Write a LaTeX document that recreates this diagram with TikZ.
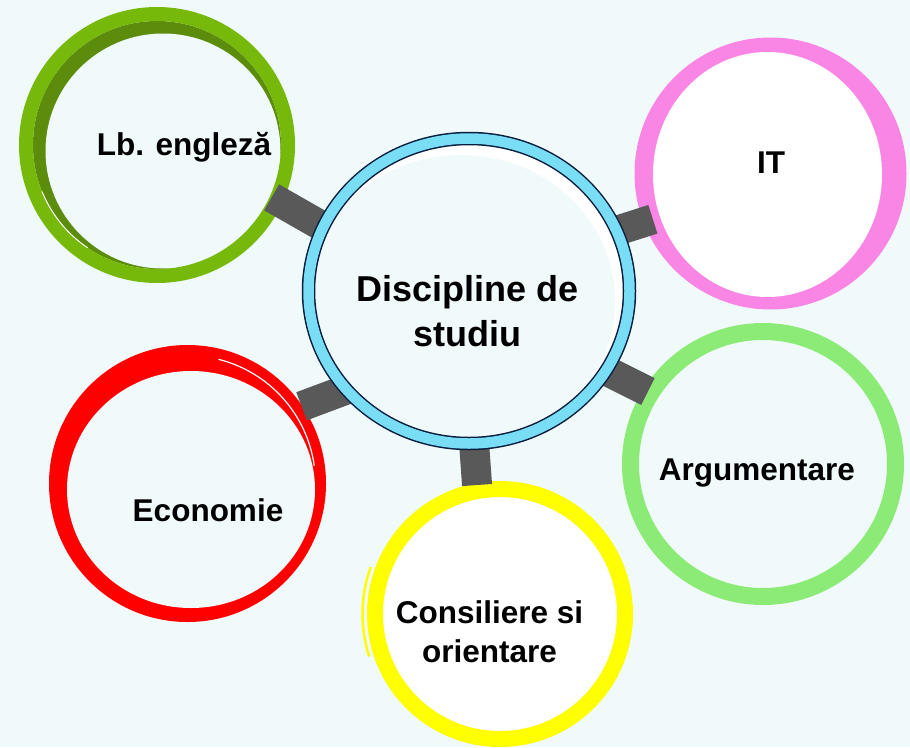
\documentclass[tikz,border=0pt]{standalone}
\usepackage{fontspec}
\setmainfont{Liberation Sans}
\usetikzlibrary{calc,shapes.geometric,backgrounds}

\definecolor{paper}{RGB}{241,250,251}
\definecolor{hubblue}{RGB}{120,221,245}
\definecolor{hubline}{RGB}{10,31,64}
\definecolor{linkgray}{RGB}{89,89,89}
\definecolor{enggreen}{RGB}{118,185,10}
\definecolor{engdark}{RGB}{92,140,12}
\definecolor{itpink}{RGB}{249,134,228}
\definecolor{arggreen}{RGB}{139,235,118}
\definecolor{consyellow}{RGB}{255,255,0}
\definecolor{ecored}{RGB}{255,0,0}

\begin{document}
\begin{tikzpicture}[x=1pt, y=-1pt,
  ring/.style={circle, inner sep=0pt},
  lbl/.style={font=\fontsize{31.5}{39}\selectfont\bfseries, align=center, inner sep=0pt},
  link/.style={draw=linkgray, line width=30pt},
]
\useasboundingbox (0,0) rectangle (910,747);

% hub
\fill[white] (469,291) ellipse [x radius=154pt, y radius=146pt];
\begin{scope}
  \clip (469,291) ellipse [x radius=154pt, y radius=146pt];
  \fill[paper] (461,301) ellipse [x radius=154pt, y radius=146pt];
\end{scope}
\node[ellipse, draw=hubline, line width=1.5pt, double=hubblue, double distance=10.5pt,
  minimum width=321pt, minimum height=305pt, inner sep=0pt, outer sep=6.75pt] (hub) at (469,291) {};
\node[lbl, font=\fontsize{36}{45}\selectfont\bfseries] (hubtxt) at (467.5,311.4) {Discipline de\\ studiu};

\begin{pgfonlayer}{background}
\fill[paper] (0,0) rectangle (910,747);
% Lb. engleza
\fill[engdark] (157,145) circle [radius=124pt];
\fill[paper] (163,151) circle [radius=117.5pt];
\node[ring, draw=enggreen, line width=14pt, minimum size=262pt, outer sep=7pt] (eng) at (157,145) {};
\draw[white, line width=1pt] (eng.center) ++(202:124pt) arc [start angle=202, end angle=236, radius=124pt];
% IT
\node[ring, fill=itpink, minimum size=272pt] (it) at (770.5,173.5) {};
\fill[white] (767.5,174.5) ellipse [x radius=114.5pt, y radius=122.5pt];
% Argumentare
\node[ring, draw=arggreen, line width=17pt, minimum size=265pt, outer sep=8.5pt] (arg) at (763,464) {};
% Consiliere
\node[ring, draw=consyellow, fill=white, line width=16pt, minimum size=250pt, outer sep=8pt] (cons) at (500,614) {};
\draw[consyellow, line width=2.5pt] (cons.center) ++(160:137.5pt) arc [start angle=160, end angle=198, radius=137.5pt];
% Economie
\node[ring, fill=ecored, minimum size=277pt] (eco) at (187.5,483.5) {};
\fill[paper] (191,489.5) ellipse [x radius=124pt, y radius=118.5pt];
\draw[white, line width=1.2pt] (eco.center) ++(76:128pt) arc [start angle=76, end angle=8, radius=128pt];
% links
\draw[link, shorten <=-8pt, shorten >=-12pt] (hub.156) -- (eng.335);
\draw[link, shorten <=-8pt, shorten >=-10pt] (hub.22) -- (it.201);
\draw[link, shorten <=-8pt, shorten >=-5pt] (hub.330) -- (arg.148);
\draw[link, shorten <=-8pt, shorten >=-2pt] (hub.272) -- (cons.100);
\draw[link, shorten <=-8pt, shorten >=-1pt] (hub.218) -- (eco.34);
\end{pgfonlayer}

\node[lbl, anchor=base] (engtxt) at (184,155) {Lb. engleză};
\node[lbl, anchor=base] (ittxt) at (771,173.3) {IT};
\node[lbl, anchor=base] (argtxt) at (757,480) {Argumentare};
\node[lbl, anchor=base] (ecotxt) at (208,521.7) {Economie};
\node[lbl] (constxt) at (489.5,632.2) {Consiliere si\\ orientare};
\end{tikzpicture}
\end{document}
